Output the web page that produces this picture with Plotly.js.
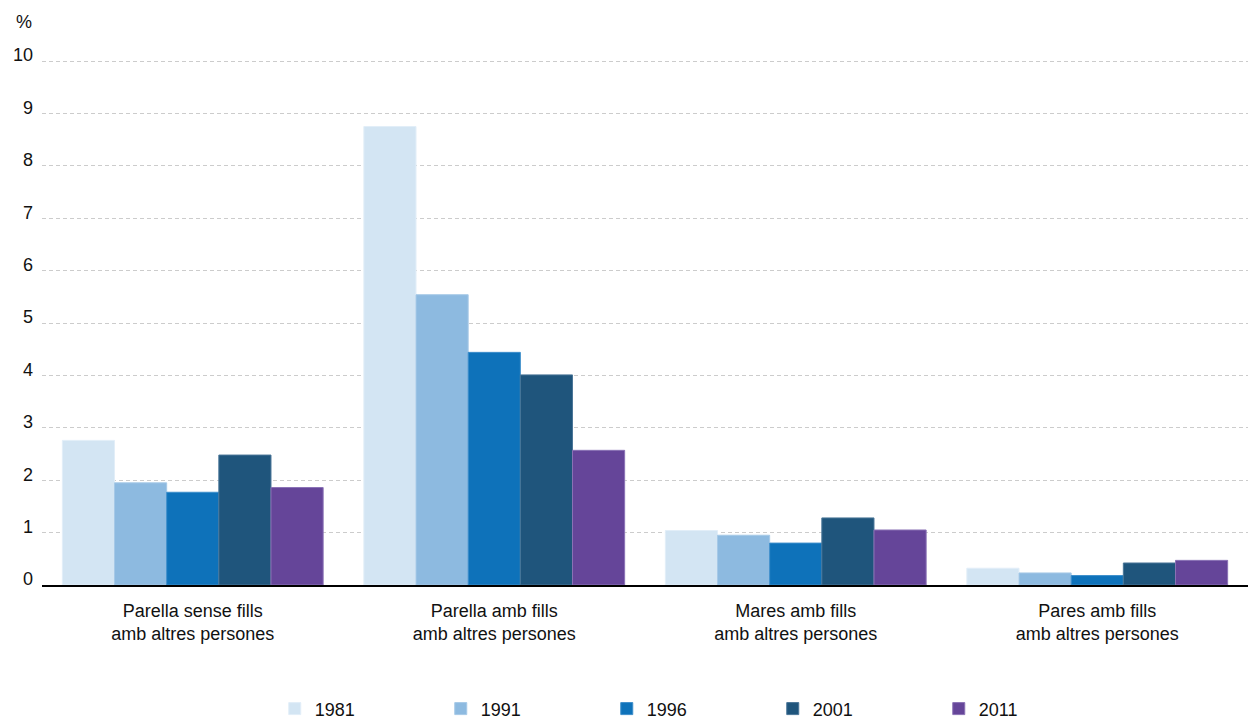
<!DOCTYPE html>
<html>
<head>
<meta charset="utf-8">
<script src="https://cdn.plot.ly/plotly-3.0.1.min.js"></script>
<style>html,body{margin:0;padding:0;background:#fff;}#chart{width:1248px;height:719px;}</style>
</head>
<body>
<div id="chart"></div>
<script>
const categories = [
  "Parella sense fills<br>amb altres persones",
  "Parella amb fills<br>amb altres persones",
  "Mares amb fills<br>amb altres persones",
  "Pares amb fills<br>amb altres persones"
];
const years = ["1981", "1991", "1996", "2001", "2011"];
const v1981 = [2.76, 8.75, 1.04, 0.32];
const v1991 = [1.95, 5.54, 0.95, 0.23];
const v1996 = [1.77, 4.44, 0.80, 0.18];
const v2001 = [2.48, 4.01, 1.28, 0.42];
const v2011 = [1.86, 2.57, 1.05, 0.47];
const yTicks = [0, 1, 2, 3, 4, 5, 6, 7, 8, 9, 10];

const series = [v1981, v1991, v1996, v2001, v2011];
const colors = ["#d3e5f3", "#8dbae0", "#0e72ba", "#1f557c", "#654599"];
const lines = ["#e2eef8", "#a6c9e7", "#3d8ecb", "#4a7698", "#8a72b5"];

const traces = series.map((vals, i) => ({
  type: "bar",
  name: years[i],
  x: categories,
  y: vals,
  marker: {color: colors[i], line: {color: lines[i], width: 1}},
  hoverinfo: "none"
}));

const fam = "Liberation Sans, Arial, Helvetica, sans-serif";

const layout = {
  width: 1248,
  height: 719,
  margin: {l: 42, r: 0, t: 60, b: 134, autoexpand: false},
  paper_bgcolor: "#fff",
  plot_bgcolor: "#fff",
  font: {family: fam, size: 18, color: "#111"},
  barmode: "group",
  bargap: 0.135,
  bargroupgap: 0,
  showlegend: true,
  legend: {
    orientation: "h",
    x: 0.193, xanchor: "left",
    y: -0.236, yanchor: "middle",
    entrywidth: 121, entrywidthmode: "pixels",
    font: {family: fam, size: 18, color: "#111"},
    itemclick: false
  },
  xaxis: {
    type: "category",
    showline: true, linecolor: "#000", linewidth: 2,
    ticks: "", showgrid: false,
    tickfont: {family: fam, size: 18, color: "#111"},
    ticklabelstandoff: 8
  },
  yaxis: {
    range: [0, 10.02],
    tickvals: yTicks,
    ticktext: yTicks.map(String),
    showgrid: true, gridcolor: "#cccccc", gridwidth: 1, griddash: "4px,3px",
    zeroline: false, showline: false, ticks: "",
    tickfont: {family: fam, size: 18, color: "#111"},
    ticklabelshift: -6,
    ticklabelstandoff: 8
  },
  annotations: [{
    text: "%", xref: "paper", yref: "paper", x: 0, y: 1,
    xanchor: "center", yanchor: "middle", xshift: -18, yshift: 38,
    showarrow: false, font: {family: fam, size: 18, color: "#111"}
  }]
};

Plotly.newPlot("chart", traces, layout, {staticPlot: true, displayModeBar: false});
</script>
</body>
</html>
